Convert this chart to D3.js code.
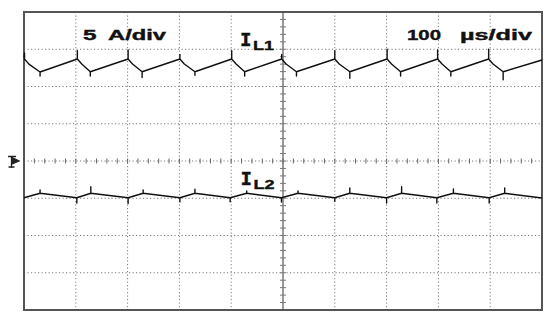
<!DOCTYPE html>
<html>
<head>
<meta charset="utf-8"/>
<title>IL1 / IL2 scope capture</title>
<script src="https://d3js.org/d3.v7.min.js"></script>
<style>
	body { margin: 0; background: #fff; }
	svg { display: block; }
	.grid { stroke: #7a7a7a; stroke-width: 1; stroke-dasharray: 1.2 2.3; fill: none; }
	.trace { fill: none; stroke: #111; stroke-width: 1.4; stroke-linejoin: round; }
	.lbl { font-family: "Liberation Sans", Arial, sans-serif; font-weight: bold; fill: #111; stroke: #111; stroke-width: 0.4; }
	.tag { font-family: "DejaVu Sans Mono", monospace; font-weight: bold; fill: #111; stroke: #111; stroke-width: 0.4; }
</style>
</head>
<body>
<svg width="550" height="319"></svg>
<script>
// scope settings: 100 us/div (10 div), 5 A/div (8 div), ground at centre
const timeDomain = [0, 1000];   // us
const ampDomain = [-20, 20];    // A

// IL1 trace vertices [t us, i A] (repeated t = switching spike)
const il1Points = [
	[0, 13.9], [1, 14.5], [1, 13.7], [9.5, 13.0], [31, 11.95], [31, 11.4], [31, 11.95],
	[103, 13.69], [103, 14.8], [103, 13.69], [111.5, 13.02], [128, 11.98], [128, 11.4], [128, 11.98],
	[201, 13.69], [201, 14.9], [201, 13.69], [209.5, 13.02], [228, 11.98], [228, 11.2], [228, 11.98],
	[301, 13.69], [301, 14.3], [301, 13.69], [309.5, 13.02], [330, 11.98], [330, 11.5], [330, 11.98],
	[401, 13.69], [401, 14.8], [401, 13.69], [409.5, 13.02], [426, 11.98], [426, 11.4], [426, 11.98],
	[497.5, 13.69], [497.5, 14.3], [497.5, 13.69], [506, 13.02], [526, 11.98], [526, 11.4], [526, 11.98],
	[600, 13.69], [600, 14.8], [600, 13.69], [608.5, 13.02], [629, 11.98], [629, 11.1], [629, 11.98],
	[701, 13.69], [701, 15.0], [701, 13.69], [709.5, 13.02], [727, 11.98], [727, 11.4], [727, 11.98],
	[798.5, 13.69], [798.5, 14.9], [798.5, 13.69], [807, 13.02], [824, 11.98], [824, 11.4], [824, 11.98],
	[897, 13.69], [897, 15.0], [897, 13.69], [905.5, 13.02], [925, 11.98], [925, 10.9], [925, 11.98],
	[1000, 13.56]
];

// IL2 trace vertices [t us, i A]
const il2Points = [
	[0, -4.93], [31, -4.33], [31, -3.89], [31, -4.33],
	[102, -4.93], [102, -5.64], [102, -4.93], [129, -4.33], [129, -3.45], [129, -4.33],
	[201, -4.93], [201, -5.7], [201, -4.93], [230, -4.33], [230, -3.89], [230, -4.33],
	[301, -4.93], [301, -5.46], [301, -4.93], [330, -4.33], [330, -3.8], [330, -4.33],
	[398, -4.93], [398, -5.46], [398, -4.93], [430, -4.33], [430, -4.03], [430, -4.33],
	[497, -4.93], [497, -5.5], [497, -4.93], [529, -4.33], [529, -4.03], [529, -4.33],
	[600, -4.93], [600, -5.4], [600, -4.93], [629, -4.33], [629, -3.62], [629, -4.33],
	[700, -4.93], [700, -5.64], [700, -4.93], [729, -4.33], [729, -3.45], [729, -4.33],
	[797, -4.93], [797, -5.64], [797, -4.93], [829, -4.33], [829, -3.76], [829, -4.33],
	[898, -4.93], [898, -5.64], [898, -4.93], [928, -4.33], [928, -3.62], [928, -4.33],
	[1000, -4.97]
];

const scaleLabels = ["5", "A/div", "100", "µs/div"];
const traceNames = ["L1", "L2"];

const svg = d3.select("svg");
const x = d3.scaleLinear().domain(timeDomain).range([24, 542]);
const y = d3.scaleLinear().domain(ampDomain).range([310, 12]);

const xDiv = x.ticks(10);   // 0..1000 step 100
const yDiv = y.ticks(8);    // -20..20 step 5
const xMid = x(500), yMid = y(0);

// dotted graticule (skip borders and centre lines)
svg.selectAll(".gv").data(xDiv.filter(d => d > 0 && d < 1000 && d !== 500))
	.enter().append("line").attr("class", "grid")
	.attr("x1", d => x(d)).attr("x2", d => x(d))
	.attr("y1", y(20)).attr("y2", y(-20));
svg.selectAll(".gh").data(yDiv.filter(d => d > -20 && d < 20))
	.enter().append("line").attr("class", "grid")
	.attr("x1", x(0)).attr("x2", x(1000))
	.attr("y1", d => y(d)).attr("y2", d => y(d));

// centre vertical axis: solid grey with minor ticks
svg.append("line")
	.attr("x1", xMid).attr("x2", xMid).attr("y1", y(20)).attr("y2", y(-20))
	.attr("stroke", "#9a9a9a").attr("stroke-width", 2);
svg.selectAll(".vt").data(d3.range(-20, 20.01, 1))
	.enter().append("line")
	.attr("x1", xMid - 3).attr("x2", xMid + 3)
	.attr("y1", d => y(d)).attr("y2", d => y(d))
	.attr("stroke", "#777").attr("stroke-width", 1);

// centre horizontal axis minor ticks
svg.selectAll(".ht").data(d3.range(0, 1000.01, 20))
	.enter().append("line")
	.attr("x1", d => x(d)).attr("x2", d => x(d))
	.attr("y1", yMid - 2.5).attr("y2", yMid + 2.5)
	.attr("stroke", "#666").attr("stroke-width", 1);

// frame
svg.append("rect")
	.attr("x", x(0)).attr("y", y(20))
	.attr("width", x(1000) - x(0)).attr("height", y(-20) - y(20))
	.attr("fill", "none").attr("stroke", "#555").attr("stroke-width", 2);

// traces
const line = d3.line().x(d => x(d[0])).y(d => y(d[1]));
svg.append("path").attr("class", "trace").attr("d", line(il1Points));
svg.append("path").attr("class", "trace").attr("d", line(il2Points));

// ground / channel marker on the left
const gm = svg.append("g").attr("stroke", "#222").attr("fill", "none").attr("stroke-width", 1.3);
gm.append("path").attr("d", `M8,${yMid - 4.5} H16 M11.5,${yMid - 4.5} V${yMid + 7} M8.5,${yMid + 6} H14.5`);
gm.append("path").attr("d", `M12,${yMid - 3.5} L19,${yMid} L12,${yMid + 3} Z`).attr("fill", "#222");

// scale labels (stretched scope font)
const lblPos = [[83, 13.5], [108, 58], [407, 34], [460, 72]];
svg.selectAll(".lbl").data(scaleLabels).enter().append("text")
	.attr("class", "lbl")
	.attr("x", (d, i) => lblPos[i][0]).attr("y", 40)
	.attr("font-size", 15.5)
	.attr("textLength", (d, i) => lblPos[i][1])
	.attr("lengthAdjust", "spacingAndGlyphs")
	.text(d => d);

// trace names I_L1, I_L2
const tagPos = [[240, 45.7, 50], [240.5, 185, 189]];
traceNames.forEach((n, i) => {
	const [tx, ty, sy] = tagPos[i];
	svg.append("text").attr("class", "tag")
		.attr("x", tx).attr("y", ty).attr("font-size", 17)
		.attr("textLength", 11.5).attr("lengthAdjust", "spacingAndGlyphs")
		.text("I");
	svg.append("text").attr("class", "lbl")
		.attr("x", tx + 13).attr("y", sy).attr("font-size", 13.5)
		.attr("textLength", 21).attr("lengthAdjust", "spacingAndGlyphs")
		.text(n);
});
</script>
</body>
</html>
